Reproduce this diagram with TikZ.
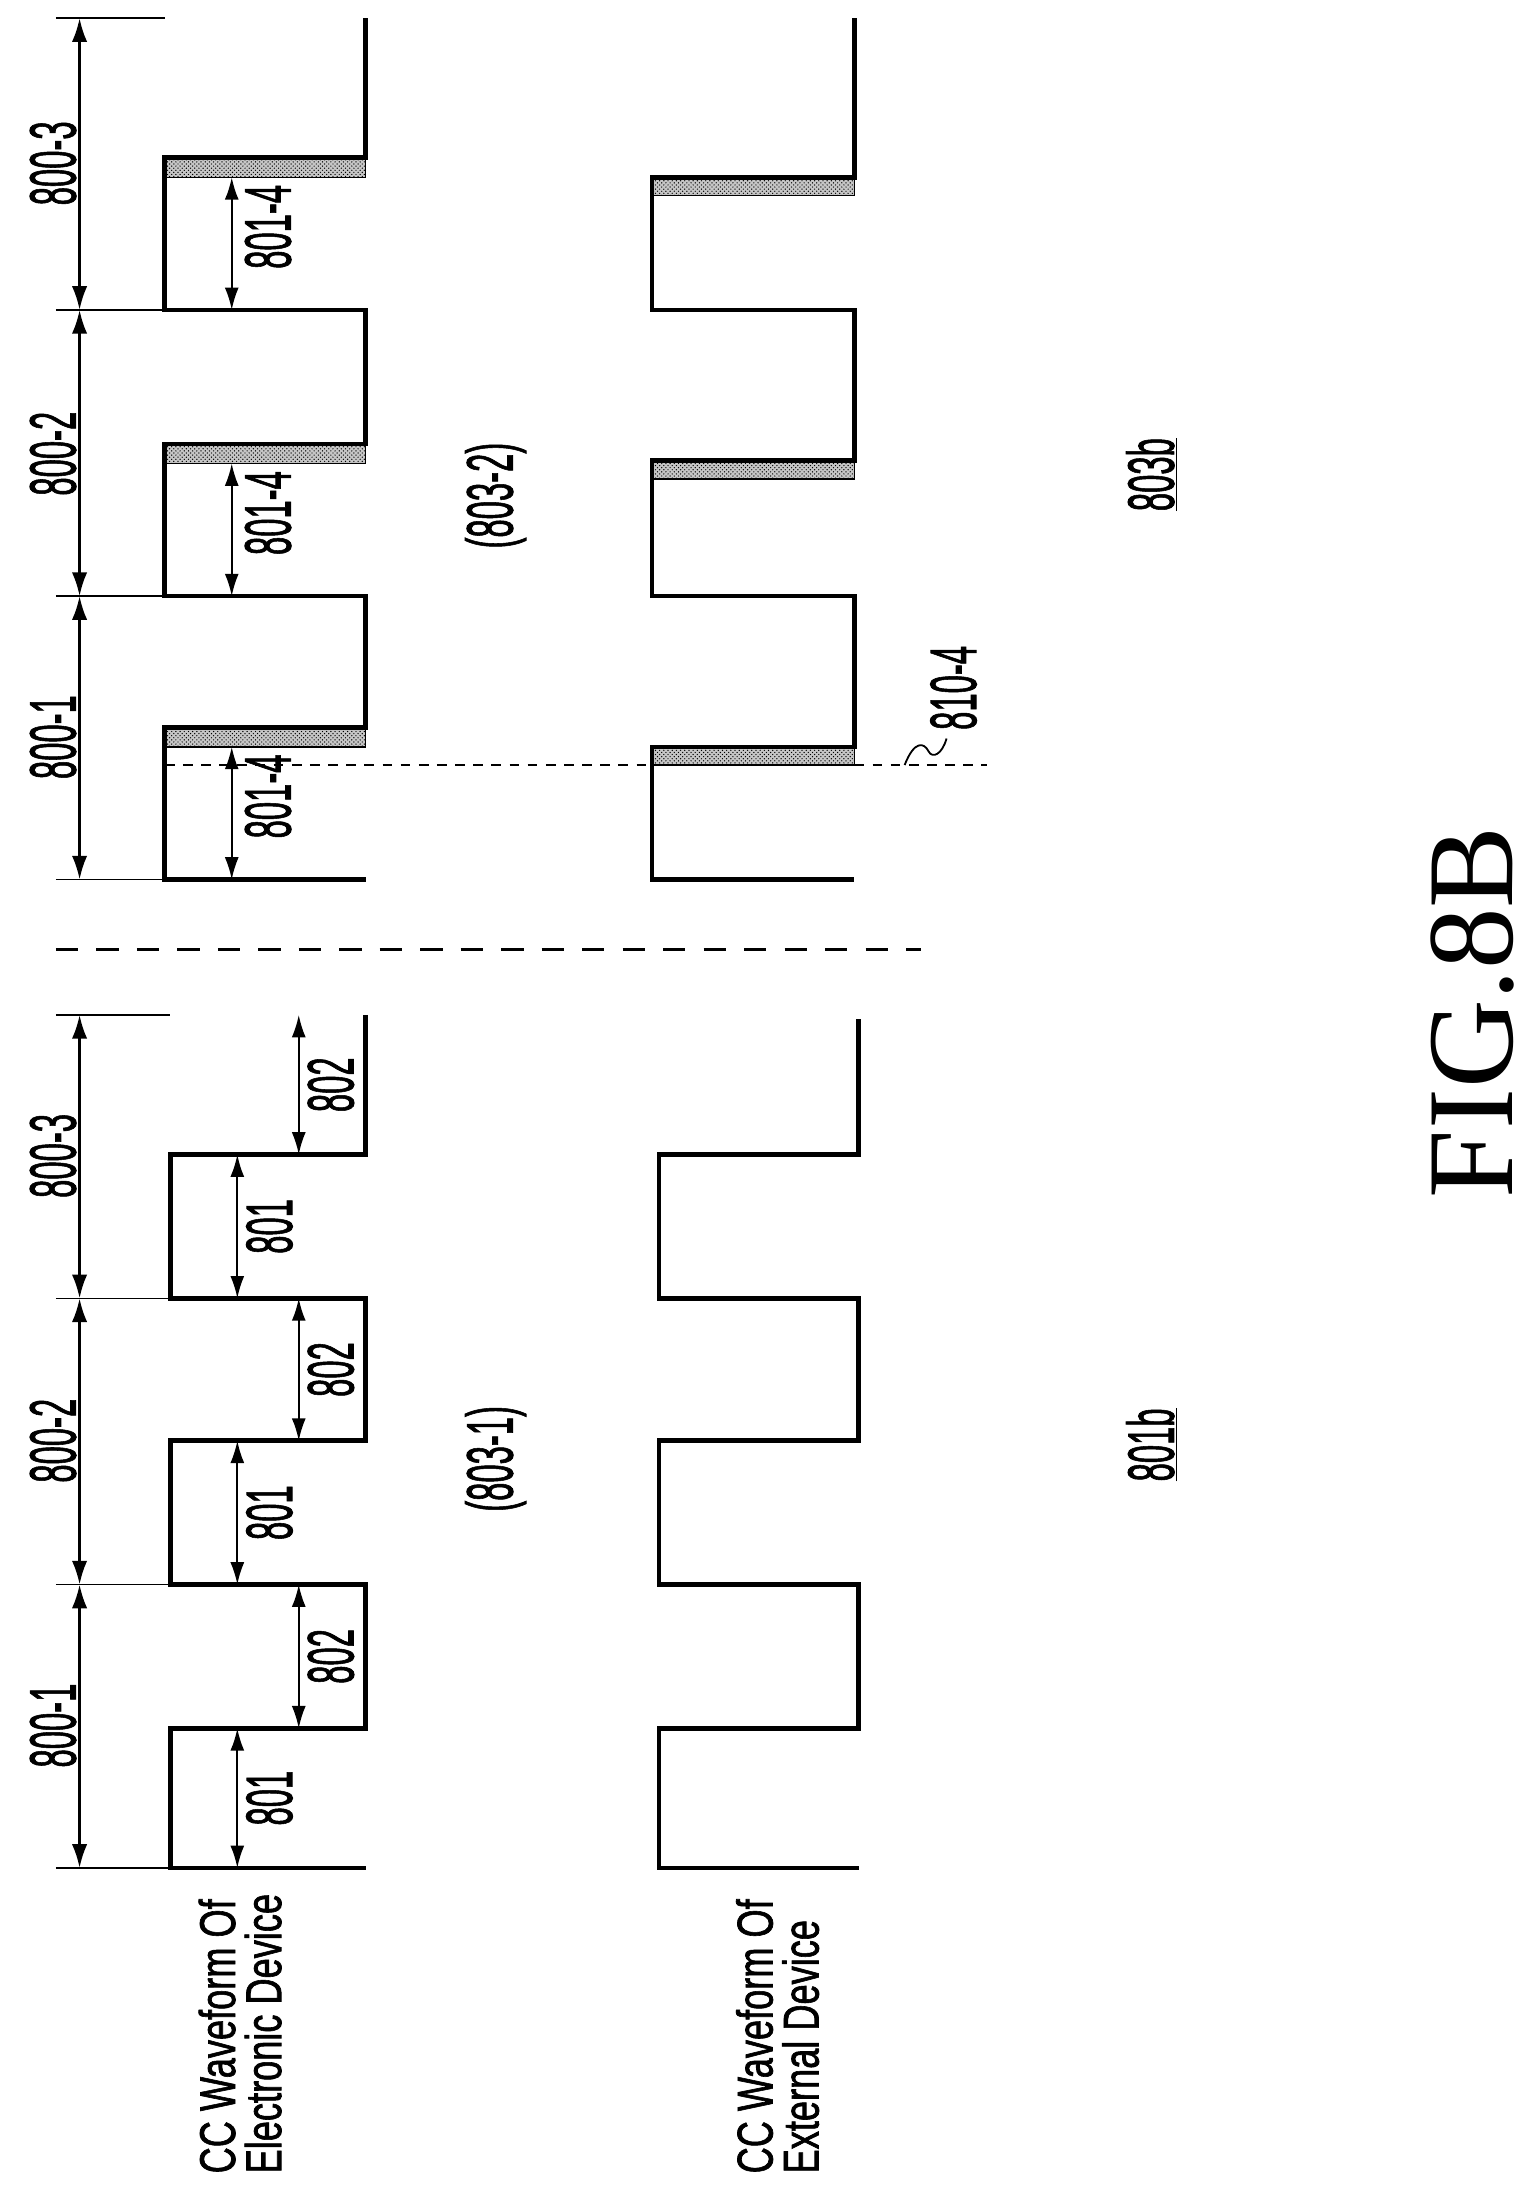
\documentclass[tikz,border=0pt]{standalone}
\usepackage{fontspec}
\usepackage{graphicx}
\setmainfont{Liberation Sans}[BoldFont=Liberation Sans,BoldFeatures={FakeBold=1.6}]
\newfontfamily\figfont{Liberation Serif}
\usetikzlibrary{arrows.meta,patterns}
\newcommand{\nar}[1]{\scalebox{0.5}[1]{#1}}
\newcommand{\wide}[1]{\scalebox{0.72}[1]{#1}}

\begin{document}
\begin{tikzpicture}[x=1pt,y=-1pt,
  wave/.style={line width=3.4pt,line join=miter},
  thin/.style={line width=1pt},
  dim/.style={line width=1.8pt,{Latex[length=17pt,width=11pt]}-{Latex[length=17pt,width=11pt]}},
  pulse/.style={line width=1.4pt,{Latex[length=16pt,width=10pt]}-{Latex[length=16pt,width=10pt]}},
  num/.style={font=\bfseries\fontsize{47}{47}\selectfont,rotate=90,inner sep=0pt},
  strip/.style={thin,preaction={fill=gray!45},pattern=crosshatch dots,pattern color=black}]
\useasboundingbox (0,0) rectangle (1100,1568);

% hatched strips, right half
\foreach \y in {113,318,521}
  \draw[strip] (118,\y) rectangle (262,\y+14);
\foreach \y in {127,330,535}
  \draw[strip] (467,\y) rectangle (612,\y+13);

% waveforms
\draw[wave] (262,13)--(262,113)--(118,113)--(118,222)--(262,222)--(262,318)--(118,318)
  --(118,427)--(262,427)--(262,521)--(118,521)--(118,630)--(262,630);
\draw[wave] (612,13)--(612,127)--(467,127)--(467,222)--(612,222)--(612,330)--(467,330)
  --(467,427)--(612,427)--(612,535)--(467,535)--(467,630)--(612,630);
\draw[wave] (262,727)--(262,827)--(122,827)--(122,930)--(262,930)--(262,1032)--(122,1032)
  --(122,1135)--(262,1135)--(262,1238)--(122,1238)--(122,1338)--(262,1338);
\draw[wave] (615,730)--(615,827)--(472,827)--(472,930)--(615,930)--(615,1032)--(472,1032)
  --(472,1135)--(615,1135)--(615,1238)--(472,1238)--(472,1338)--(615,1338);

% period ticks
\foreach \y [count=\i] in {13,222,427,630} {
  \coordinate (rt\i) at (57,\y);
  \draw[thin] (40,\y)--(118,\y);
}
\foreach \y [count=\i] in {727,930,1135,1338} {
  \coordinate (lt\i) at (57,\y);
  \draw[thin] (40,\y)--(122,\y);
}
\draw[dim] (rt1)--(rt2); \draw[dim] (rt2)--(rt3); \draw[dim] (rt3)--(rt4);
\draw[dim] (lt1)--(lt2); \draw[dim] (lt2)--(lt3); \draw[dim] (lt3)--(lt4);

\node[num] (p13) at (38,117) {\nar{800-3}};
\node[num] (p12) at (38,325) {\nar{800-2}};
\node[num] (p11) at (38,528) {\nar{800-1}};
\node[num] (p23) at (38,828) {\nar{800-3}};
\node[num] (p22) at (38,1032) {\nar{800-2}};
\node[num] (p21) at (38,1236) {\nar{800-1}};

% 801-4 on-times
\foreach \a/\b [count=\i] in {127/222,332/427,535/630} {
  \coordinate (sa\i) at (166,\a);
  \coordinate (sb\i) at (166,\b);
  \draw[pulse] (sa\i)--(sb\i);
  \node[num] (s\i) at (192,{(\a+\b)/2-12}) {\nar{801-4}};
}

% 801 and 802 on the left
\foreach \a/\b [count=\i] in {827/930,1032/1135,1238/1338} {
  \coordinate (ha\i) at (170,\a);
  \coordinate (hb\i) at (170,\b);
  \draw[pulse] (ha\i)--(hb\i);
  \node[num] (h\i) at (193,{(\a+\b)/2}) {\nar{801}};
}
\foreach \a/\b [count=\i] in {727/827,930/1032,1135/1238} {
  \coordinate (ka\i) at (214,\a);
  \coordinate (kb\i) at (214,\b);
  \draw[pulse] (ka\i)--(kb\i);
  \node[num] (k\i) at (237,{(\a+\b)/2}) {\nar{802}};
}

% sampling line 810-4
\coordinate (ds) at (118,548);
\coordinate (de) at (707,548);
\draw[thin,dash pattern=on 7pt off 6pt] (ds)--(de);
\coordinate (sq) at (678,529);
\draw[line width=1.3pt] (648,548) .. controls (655,530) and (662,532) .. (665,538)
  .. controls (668,544) and (675,540) .. (sq);
\node[num,anchor=west] (m8104) at (683,523) {\nar{810-4}};

% separator
\coordinate (sp1) at (40,680);
\coordinate (sp2) at (660,680);
\draw[line width=2.6pt,dash pattern=on 16pt off 13pt] (sp1)--(sp2);

\node[num] (c2) at (355,355) {\nar{(803-2)}};
\node[num] (c1) at (355,1045) {\nar{(803-1)}};
\node[num] (r803b) at (825,340) {\nar{\underline{803b}}};
\node[num] (r801b) at (825,1035) {\nar{\underline{801b}}};

\node[rotate=90,font=\bfseries\fontsize{36}{33}\selectfont,anchor=west,align=left,inner sep=0pt]
  (lab1) at (172,1557) {\wide{CC Waveform Of}\\\wide{Electronic Device}};
\node[rotate=90,font=\bfseries\fontsize{36}{33}\selectfont,anchor=west,align=left,inner sep=0pt]
  (lab2) at (557,1557) {\wide{CC Waveform Of}\\\wide{External Device}};

\node[rotate=90,font=\figfont\fontsize{88}{88}\selectfont,inner sep=0pt] (fig) at (1055,725) {FIG.8B};
\end{tikzpicture}
\end{document}
